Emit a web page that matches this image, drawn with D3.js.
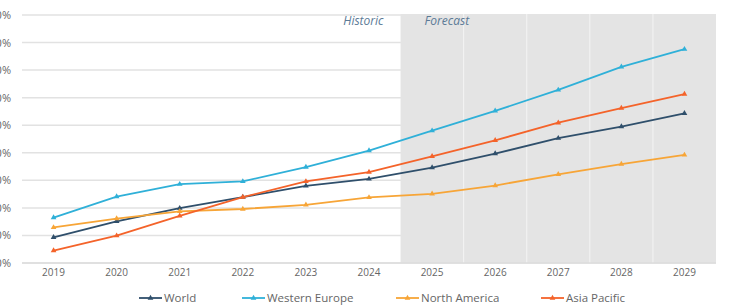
<!DOCTYPE html>
<html>
<head>
<meta charset="utf-8">
<script src="https://cdn.jsdelivr.net/npm/d3@7"></script>
<style>
  body { margin: 0; background: #fff; }
  text { font-family: "Open Sans", Arial, sans-serif; }
</style>
</head>
<body>
<div class="canvas"></div>
<script>
const dims = { width: 731, height: 308 };
const plot = { left: 22, right: 716, top: 15, bottom: 263 };

const years = ['2019','2020','2021','2022','2023','2024','2025','2026','2027','2028','2029'];
const forecastStart = '2025';
const yTicks = [0, 10, 20, 30, 40, 50, 60, 70, 80, 90];

const world         = [9.3, 15.1, 19.9, 23.9, 28.0, 30.5, 34.6, 39.7, 45.3, 49.5, 54.3];
const westernEurope = [16.5, 24.1, 28.6, 29.6, 34.8, 40.8, 48.0, 55.2, 62.8, 71.2, 77.6];
const northAmerica  = [12.9, 16.1, 18.7, 19.6, 21.1, 23.8, 25.1, 28.1, 32.2, 35.9, 39.2];
const asiaPacific   = [4.5, 9.9, 17.1, 23.9, 29.6, 33.0, 38.7, 44.5, 50.9, 56.2, 61.3];

const series = [
  { name: 'World', values: world, color: '#2f4f6b' },
  { name: 'Western Europe', values: westernEurope, color: '#2fb0d8' },
  { name: 'North America', values: northAmerica, color: '#f7a537' },
  { name: 'Asia Pacific', values: asiaPacific, color: '#f4632a' }
];

const svg = d3.select('.canvas')
  .append('svg')
  .attr('width', dims.width)
  .attr('height', dims.height);

const x = d3.scaleBand()
  .domain(years)
  .range([plot.left, plot.right])
  .padding(0);

const y = d3.scaleLinear()
  .domain([0, 90])
  .range([plot.bottom, plot.top]);

// gridlines
svg.append('g')
  .selectAll('line')
  .data(yTicks)
  .enter().append('line')
    .attr('x1', plot.left)
    .attr('x2', plot.right)
    .attr('y1', d => y(d))
    .attr('y2', d => y(d))
    .attr('stroke', '#e2e2e2')
    .attr('stroke-width', 1.5);

// forecast shading
const fx = x(forecastStart);
svg.append('rect')
  .attr('x', fx)
  .attr('y', plot.top - 1)
  .attr('width', plot.right - fx)
  .attr('height', plot.bottom - plot.top + 1)
  .attr('fill', '#e4e4e4');

svg.append('g')
  .selectAll('line')
  .data(years.slice(years.indexOf(forecastStart) + 1))
  .enter().append('line')
    .attr('x1', d => x(d))
    .attr('x2', d => x(d))
    .attr('y1', plot.top - 1)
    .attr('y2', plot.bottom)
    .attr('stroke', '#f4f4f4')
    .attr('stroke-width', 1);

// baseline
svg.append('line')
  .attr('x1', plot.left).attr('x2', plot.right)
  .attr('y1', y(0)).attr('y2', y(0))
  .attr('stroke', '#dcdcdc')
  .attr('stroke-width', 1.5);

// y labels, clipped by the left edge as in the source
svg.append('g')
  .selectAll('text')
  .data(yTicks)
  .enter().append('text')
    .attr('x', 11)
    .attr('y', d => y(d) + 4)
    .attr('text-anchor', 'end')
    .attr('font-size', 11)
    .attr('fill', '#666')
    .text(d => d + '%');

// x labels
svg.append('g')
  .selectAll('text')
  .data(years)
  .enter().append('text')
    .attr('x', d => x(d) + x.bandwidth() / 2)
    .attr('y', 276)
    .attr('text-anchor', 'middle')
    .attr('font-size', 10)
    .attr('fill', '#666')
    .text(d => d);

// section labels
svg.append('text')
  .attr('x', fx - 17).attr('y', 25)
  .attr('text-anchor', 'end')
  .attr('font-size', 12)
  .attr('font-style', 'italic')
  .attr('fill', '#5b7a96')
  .text('Historic');

svg.append('text')
  .attr('x', fx + 24).attr('y', 25)
  .attr('font-size', 12)
  .attr('font-style', 'italic')
  .attr('fill', '#5b7a96')
  .text('Forecast');

// lines
const line = d3.line()
  .x((d, i) => x(years[i]) + x.bandwidth() / 2)
  .y(d => y(d));

const marker = d3.symbol().type(d3.symbolTriangle).size(14);

const g = svg.append('g');
series.forEach(s => {
  g.append('path')
    .attr('d', line(s.values))
    .attr('fill', 'none')
    .attr('stroke', s.color)
    .attr('stroke-width', 1.8);
  g.selectAll(null)
    .data(s.values)
    .enter().append('path')
      .attr('d', marker)
      .attr('transform', (d, i) => `translate(${x(years[i]) + x.bandwidth() / 2},${y(d)})`)
      .attr('fill', s.color);
});

// legend
const legendX = [139, 242, 396, 541];
const legend = svg.append('g');
series.forEach((s, i) => {
  const lg = legend.append('g').attr('transform', `translate(${legendX[i]},298)`);
  lg.append('line')
    .attr('x1', 0).attr('x2', 23)
    .attr('stroke', s.color)
    .attr('stroke-width', 1.8);
  lg.append('path')
    .attr('d', marker)
    .attr('transform', 'translate(11.5,0)')
    .attr('fill', s.color);
  lg.append('text')
    .attr('x', 25).attr('y', 4)
    .attr('font-size', 11.5)
    .attr('fill', '#666')
    .text(s.name);
});
</script>
</body>
</html>
